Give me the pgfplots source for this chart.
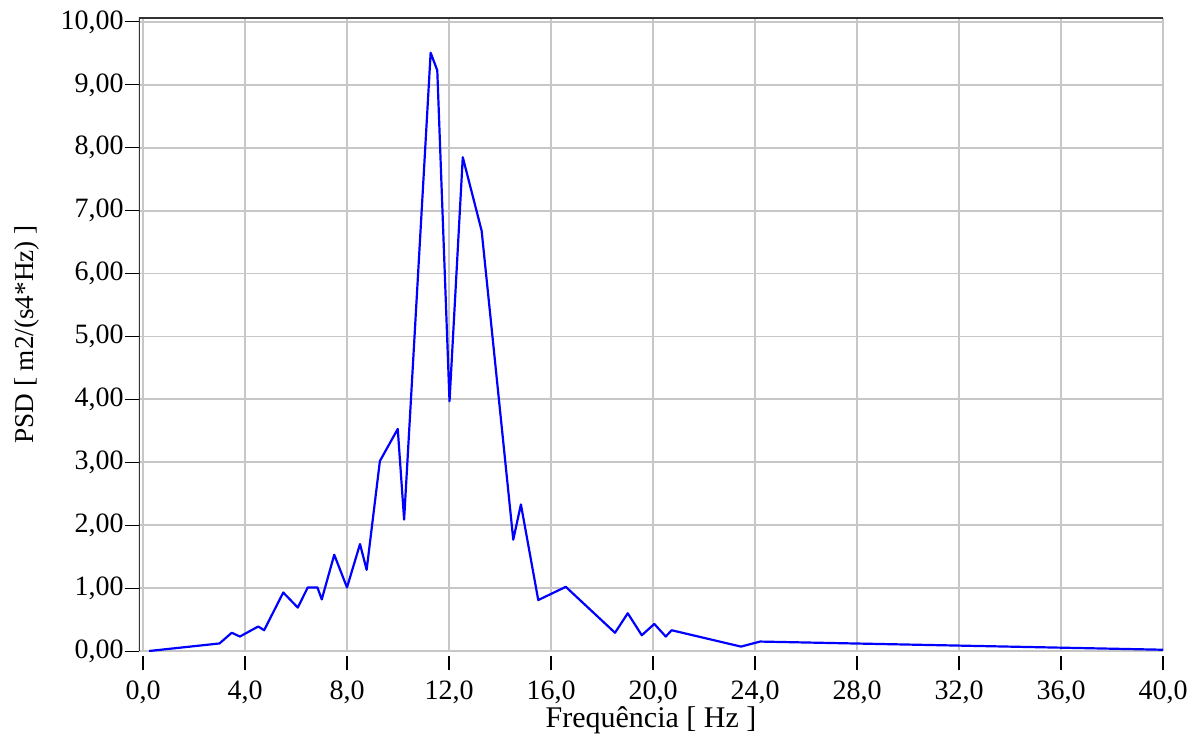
\documentclass[border=0pt]{standalone}
\usepackage{fontspec}
\setmainfont{Liberation Serif}
\usepackage{pgfplots}
\pgfplotsset{compat=1.18}
\begin{document}
\begin{tikzpicture}
\begin{axis}[
  scale only axis,
  width=512pt, height=316.5pt,
  xmin=-0.157, xmax=40, ymin=0, ymax=10.063,
  xtick={0,4,...,40}, ytick={0,1,...,10},
  /pgf/number format/assume math mode=true,
  x tick label style={/pgf/number format/fixed, /pgf/number format/fixed zerofill, /pgf/number format/precision=1, /pgf/number format/use comma, /pgf/number format/1000 sep={}},
  y tick label style={/pgf/number format/fixed, /pgf/number format/fixed zerofill, /pgf/number format/precision=2, /pgf/number format/use comma, /pgf/number format/1000 sep={}},
  ticklabel style={font=\fontsize{14}{16}\selectfont},
  yticklabel style={inner xsep=0.5pt},
  xticklabel style={yshift=-4.5pt},
  grid=major,
  major grid style={black!22, line width=0.9pt},
  axis line style={draw=none},
  tick pos=left, tick align=outside,
  major tick length=7pt,
  xtick style={black, line width=0.9pt, yshift=-2.5pt},
  ytick style={black, line width=0.5pt},
  xlabel={Frequência [ Hz ]},
  ylabel={PSD [ m2/(s4*Hz) ]},
  xlabel style={at={(axis description cs:0.5,-0.1216)}, anchor=base, font=\fontsize{15}{17}\selectfont},
  ylabel style={at={(axis description cs:-0.1035,0.5)}, anchor=base, font=\fontsize{13.6}{16}\selectfont},
]
\addplot[blue, line width=1.1pt, line join=round] coordinates {
(0.24,0.00) (3.00,0.12) (3.48,0.29) (3.80,0.23) (4.52,0.39) (4.75,0.33)
(5.50,0.93) (6.07,0.69) (6.46,1.01) (6.84,1.01) (7.01,0.82) (7.50,1.53)
(8.00,1.01) (8.51,1.70) (8.77,1.29) (9.29,3.02) (9.99,3.53) (10.24,2.09)
(11.28,9.51) (11.54,9.23) (12.02,3.97) (12.54,7.85) (13.28,6.68)
(14.52,1.77) (14.82,2.33) (15.50,0.81) (16.58,1.02) (18.51,0.29)
(19.01,0.60) (19.56,0.25) (20.05,0.43) (20.50,0.23) (20.73,0.33)
(23.45,0.07) (24.20,0.15) (40.00,0.02)
};
\draw[black!80, line width=0.9pt] (rel axis cs:0,0) -- (rel axis cs:0,1) -- (rel axis cs:1,1);
\coordinate (bl) at (rel axis cs:0,0);
\coordinate (tr) at (rel axis cs:1,1);
\end{axis}
\pgfresetboundingbox
\path ([xshift=-69.5pt,yshift=-46pt]bl) rectangle ([xshift=19.5pt,yshift=9pt]tr);
\end{tikzpicture}
\end{document}
